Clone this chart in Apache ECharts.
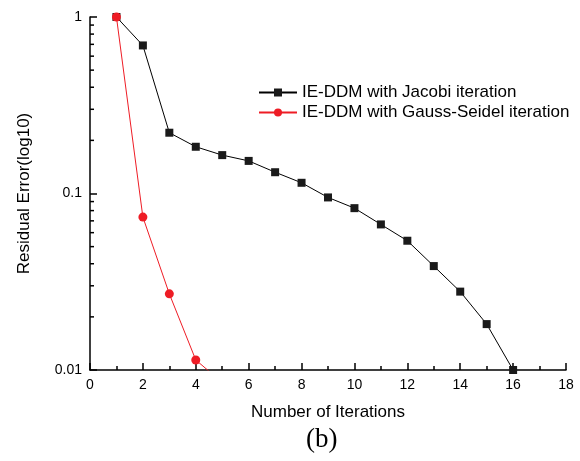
<!DOCTYPE html>
<html>
<head>
<meta charset="utf-8">
<script src="https://cdn.jsdelivr.net/npm/echarts@6/dist/echarts.min.js"></script>
<style>
  html, body { margin: 0; padding: 0; background: #fff; }
  #chart { width: 580px; height: 461px; }
</style>
</head>
<body>
<div id="chart"></div>
<script>
// iterations and residuals
const iterJacobi = [1, 2, 3, 4, 5, 6, 7, 8, 9, 10, 11, 12, 13, 14, 15, 16];
const errJacobi = [1.0, 0.69, 0.221, 0.184, 0.165, 0.153, 0.132, 0.115, 0.095, 0.0826, 0.0668, 0.054, 0.0388, 0.0278, 0.0182, 0.01];
const iterGauss = [1, 2, 3, 4, 5];
const errGauss = [1.0, 0.0735, 0.027, 0.0114, 0.0085];
const yMinorTicks = [0.02, 0.03, 0.04, 0.05, 0.06, 0.07, 0.08, 0.09, 0.2, 0.3, 0.4, 0.5, 0.6, 0.7, 0.8, 0.9];

const chart = echarts.init(document.getElementById('chart'));
const font = 'Liberation Sans, Arial, sans-serif';

const option = {
  animation: false,
  title: {
    text: '(b)',
    left: 306,
    top: 426,
    padding: 0,
    textStyle: { fontFamily: 'Liberation Serif, Times New Roman, serif', fontSize: 27, fontWeight: 'normal', color: '#000' }
  },
  legend: {
    data: ['IE-DDM with Jacobi iteration', 'IE-DDM with Gauss-Seidel iteration'],
    orient: 'vertical',
    left: 253,
    top: 79,
    itemWidth: 38,
    itemHeight: 10,
    itemGap: 3,
    textStyle: { fontFamily: font, fontSize: 17, color: '#000' }
  },
  grid: { left: 90, right: 14, top: 17, bottom: 91 },
  xAxis: {
    type: 'value',
    min: 0,
    max: 18,
    interval: 2,
    name: 'Number of Iterations',
    nameLocation: 'middle',
    nameGap: 34,
    nameTextStyle: { fontFamily: font, fontSize: 17, color: '#000' },
    axisLine: { lineStyle: { color: '#000', width: 1.5 } },
    axisTick: { show: true, inside: true, length: 7, lineStyle: { color: '#000', width: 1.5 } },
    minorTick: { show: true, splitNumber: 2, length: 4, lineStyle: { color: '#000', width: 1.5 } },
    axisLabel: { fontFamily: font, fontSize: 14, color: '#000', margin: 8 },
    splitLine: { show: false }
  },
  yAxis: {
    type: 'log',
    logBase: 10,
    min: 0.01,
    max: 1,
    name: 'Residual Error(log10)',
    nameLocation: 'middle',
    nameGap: 57,
    nameTextStyle: { fontFamily: font, fontSize: 17, color: '#000' },
    axisLine: { show: true, lineStyle: { color: '#000', width: 1.5 } },
    axisTick: { show: true, inside: true, length: 7, lineStyle: { color: '#000', width: 1.5 } },
    axisLabel: { fontFamily: font, fontSize: 14, color: '#000', margin: 8 },
    splitLine: { show: false }
  },
  series: [
    {
      name: 'IE-DDM with Jacobi iteration',
      type: 'line',
      data: iterJacobi.map((x, i) => [x, errJacobi[i]]),
      symbol: 'rect',
      symbolSize: 8,
      itemStyle: { color: '#1a1a1a' },
      lineStyle: { color: '#000', width: 1 },
      clip: true
    },
    {
      name: 'IE-DDM with Gauss-Seidel iteration',
      type: 'line',
      data: iterGauss.map((x, i) => [x, errGauss[i]]),
      symbol: 'circle',
      symbolSize: 9,
      itemStyle: { color: '#ee1c25' },
      lineStyle: { color: '#ee1c25', width: 1 },
      clip: true
    },
    {
      // minor ticks at 2..9 of each decade
      type: 'custom',
      coordinateSystem: 'cartesian2d',
      silent: true,
      z: 10,
      data: yMinorTicks.map(v => [0, v]),
      renderItem: (params, api) => {
        const p = api.coord([0, api.value(1)]);
        return {
          type: 'line',
          shape: { x1: p[0], y1: p[1], x2: p[0] + 4, y2: p[1] },
          style: { stroke: '#000', lineWidth: 1.5 }
        };
      }
    }
  ]
};
chart.setOption(option);
</script>
</body>
</html>
